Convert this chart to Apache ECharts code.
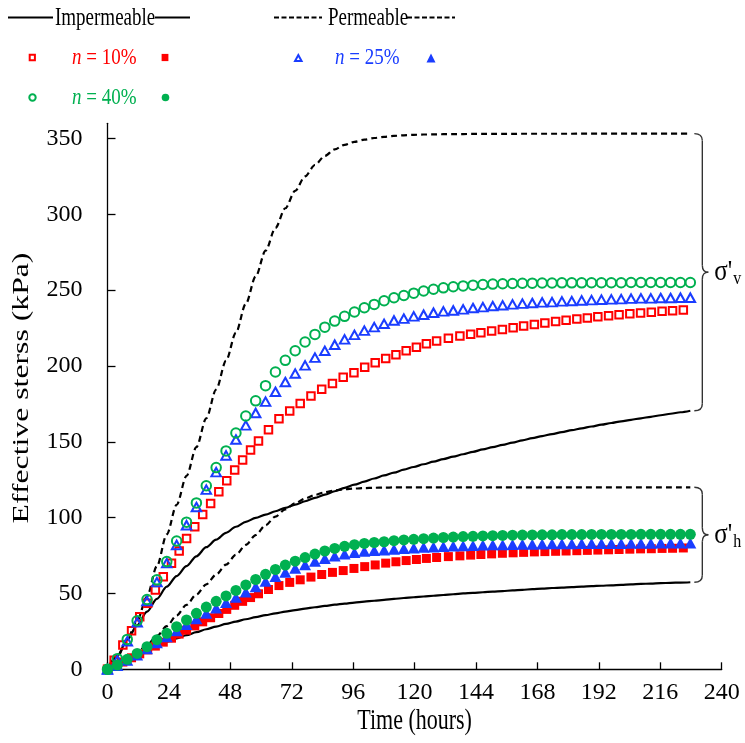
<!DOCTYPE html>
<html><head><meta charset="utf-8">
<script src="https://cdn.jsdelivr.net/npm/echarts@6/dist/echarts.min.js"></script>
<style>html,body{margin:0;padding:0;background:#fff}#c{width:745px;height:743px}</style>
</head><body><div id="c"></div>
<script>
// ---------- data (hours, kPa) ----------
const timeC = [0,3.86,7.72,11.58,15.44,19.3,23.16,27.02,30.88,34.74,
  38.6,42.46,46.32,50.18,54.04,57.9,61.76,65.62,69.48,73.34,
  77.2,81.06,84.92,88.78,92.64,96.5,100.36,104.22,108.08,111.94,
  115.8,119.66,123.52,127.38,131.24,135.1,138.96,142.82,146.68,150.54,
  154.4,158.26,162.12,165.98,169.84,173.7,177.56,181.42,185.28,189.14,
  193,196.86,200.72,204.58,208.44,212.3,216.16,220.02,223.88,227.74];
const timeS = [0,2.6,6.0,9.4,12.6,15.7,18.7,21.8,25.0,28.0,
  30.9,34.1,37.2,40.3,43.5,46.6,49.7,52.8,55.9,59.0,
  62.9,67.0,71.2,75.3,79.5,83.7,87.9,92.1,96.3,100.5,
  104.6,108.7,112.7,116.7,120.7,124.6,128.6,133.2,137.7,141.9,
  145.9,150.1,154.3,158.5,162.6,166.8,170.9,175.1,179.2,183.4,
  187.5,191.6,195.8,199.9,204.1,208.3,212.5,216.7,220.8,225.0];

// sigma'v (open markers)
const sv10 = [0,6,16,25.4,34.7,43.5,52.3,61,69.9,78,
  86.3,94,102,109.4,117,124.3,131.4,138,144.6,150.5,
  158,165.2,170.3,175.3,180.2,184.6,188.5,192.5,195.5,199.1,
  202.1,205,207.4,210,212.4,214.6,216.5,218.3,219.8,220.9,
  221.9,223,224.1,225.2,226.3,227.3,228.3,229.3,230.2,230.9,
  231.7,232.4,233.1,233.8,234.4,235,235.5,236,236.4,236.9];
const sv25 = [0,6,18.5,31,45,57.5,70,82,95,107,
  118.5,130,141,151.5,160.8,169,176.5,183,189.4,195,
  200.4,205.5,210,214,217.5,220.5,223.3,225.6,227.8,230,
  231.2,232.7,233.8,235.1,236,236.6,237.3,238.2,238.8,239.5,
  240,240.6,241.1,241.5,241.9,242.1,242.6,242.8,243.2,243.4,
  243.7,243.9,244.1,244.4,244.6,244.6,244.8,244.8,245,245];
const sv40 = [0,7,19.7,32,46,59,71,84.6,97,109.7,
  121,133,144,155.8,167,177,187,196,203.7,210,
  215.8,220.8,225.6,229.6,232.7,235.6,238.4,240.6,243,245,
  246.5,248,249.4,250.6,251.5,252.2,252.8,253.3,253.7,254,
  254.2,254.4,254.5,254.6,254.7,254.7,254.8,254.8,254.8,254.9,
  254.9,254.9,254.9,255,255,255,255,255,255,255];
// sigma'h (filled markers)
const sh10 = [0,2.0,4.8,7.6,10.2,12.8,15.3,17.9,20.5,23.2,
  25.8,28.6,31.3,34,36.8,39.5,42.2,44.8,47.3,49.8,
  52.6,55.2,57.3,59.0,60.8,62.5,63.9,65.1,66.5,67.7,
  68.8,70.0,70.9,71.7,72.4,73.1,73.7,74.3,74.8,75.3,
  75.7,76.1,76.5,76.8,77.1,77.4,77.6,77.8,78.0,78.2,
  78.4,78.6,78.8,79.0,79.2,79.4,79.5,79.7,79.8,80.0];
const sh25 = [0,2.5,6.0,9.5,13.5,17.5,21.5,25.5,29.5,33.3,
  37,40.5,44,47.5,51,54.5,58,61.2,64,66.6,
  69,71.2,73.1,74.7,76,77,77.8,78.3,78.6,79.1,
  79.6,80,80.4,80.7,81,81.3,81.5,81.7,81.9,82.1,
  82.2,82.3,82.4,82.5,82.6,82.7,82.8,82.8,82.9,82.9,
  83,83,83,83.1,83.1,83.1,83.2,83.2,83.2,83.2];
const sh40 = [0,2.8,6.6,10.5,14.9,19.5,23.7,28.1,32.5,36.9,
  41,44.8,48.4,52,55.6,59.2,62.6,65.8,68.7,71.3,
  73.7,76,78,79.7,81.1,82.2,83,83.6,84.1,84.8,
  85.3,85.7,86.1,86.5,86.9,87.2,87.5,87.7,87.9,88.1,
  88.3,88.4,88.5,88.6,88.7,88.7,88.8,88.8,88.8,88.9,
  88.9,88.9,88.9,88.9,89,89,89,89,89,89];
// black curves
const impV = [0,9,19.5,29,38,46.5,54.5,61.5,68,74.5,
  80.5,85.5,90,94,97.2,99.8,102,104.2,106.4,108.6,
  110.8,113,115.2,117.4,119.6,121.7,123.8,125.8,127.8,129.7,
  131.6,133.4,135.2,136.9,138.6,140.2,141.8,143.4,145,146.5,
  148,149.5,151,152.4,153.8,155.1,156.4,157.7,158.9,160.1,
  161.3,162.4,163.5,164.5,165.5,166.5,167.5,168.5,169.5,170.5];
const impH = [0,3.5,7,10.3,13.2,15.8,18.2,20.4,22.5,24.5,
  26.4,28.2,29.9,31.5,33,34.4,35.7,36.9,38,39,
  40,40.9,41.8,42.6,43.3,44,44.6,45.2,45.8,46.4,
  47,47.5,48,48.5,49,49.5,50,50.4,50.8,51.2,
  51.6,52,52.4,52.8,53.2,53.6,53.9,54.2,54.5,54.8,
  55.1,55.4,55.7,56,56.3,56.5,56.8,57,57.2,57.4];
const permV = [0,8,20,32,48,68,89,108.5,127.5,146.5,
  165.5,184.5,203.5,222,241,259,276,291,304,315.5,
  325,332.5,338.5,342.8,345.8,347.8,349.2,350.3,351.1,351.7,
  352.1,352.4,352.6,352.7,352.8,352.9,352.9,353,353,353,
  353,353,353.1,353.1,353.1,353.1,353.1,353.1,353.2,353.2,
  353.2,353.2,353.2,353.2,353.2,353.2,353.2,353.2,353.2,353.2];
const permH = [0,3,7,11,16,22,28.5,35.5,42.5,49.3,
  56,62.5,69,75.5,82,88.5,95,100.7,105.5,109.5,
  112.6,115,116.7,117.9,118.7,119.2,119.5,119.7,119.8,119.9,
  119.9,120,120,120,120,120,120,120,120,120,
  120,120,120,120,120,120,120,120,120,120,
  120,120,120,120,120,120,120,120,120,120];
const yTickValues = [0,50,100,150,200,250,300,350];

// ---------- chart ----------
const RED='#ff0000', BLUE='#1a3dff', GREEN='#00b050';
const FONT='Liberation Serif';
const pair=(ts,vs)=>ts.map((t,i)=>[t,vs[i]]);
const chart = echarts.init(document.getElementById('c'), null, {renderer:'canvas'});
const lineS=(name,vs,dash)=>({name,type:'line',data:pair(timeC,vs),showSymbol:false,symbol:'none',
  smooth:0.3,smoothMonotone:'x',lineStyle:{color:'#000',width:2.2,type:dash?[6,4]:'solid'},z:2,silent:true});
const scat=(name,ts,vs,symbol,size,color,open,z)=>({name,type:'scatter',data:pair(ts,vs),symbol,symbolSize:size,z,
  itemStyle:open?{color:'rgba(255,255,255,0)',borderColor:color,borderWidth:2,opacity:1}:{color:color,opacity:1},silent:true});
const option = {
  animation:false,
  backgroundColor:'#fff',
  grid:{left:107.5,right:23.3,top:123.3,bottom:73.7,containLabel:false},
  xAxis:{type:'value',min:0,max:240,interval:24,
    axisLine:{lineStyle:{color:'#000',width:1.3}},
    axisTick:{inside:true,length:7,lineStyle:{color:'#000',width:1.3}},
    axisLabel:{color:'#000',fontFamily:FONT,fontSize:24,margin:11},
    splitLine:{show:false}},
  yAxis:{type:'value',min:0,max:360,interval:50,
    axisLine:{show:true,lineStyle:{color:'#000',width:1.3}},
    axisTick:{show:true,inside:true,length:8,customValues:yTickValues,lineStyle:{color:'#000',width:1.3}},
    axisLabel:{color:'#000',fontFamily:FONT,fontSize:24,margin:25,customValues:yTickValues},
    splitLine:{show:false}},
  series:[
    lineS('Impermeable σ\'v',impV,false),
    lineS('Impermeable σ\'h',impH,false),
    lineS('Permeable σ\'v',permV,true),
    lineS('Permeable σ\'h',permH,true),
    scat('n = 10% σ\'v',timeS,sv10,'rect',7.5,RED,true,3),
    scat('n = 10% σ\'h',timeS,sh10,'rect',9,RED,false,3),
    scat('n = 25% σ\'v',timeC,sv25,'triangle',[9.5,8.5],BLUE,true,4),
    scat('n = 25% σ\'h',timeC,sh25,'triangle',[12,11],BLUE,false,4),
    scat('n = 40% σ\'v',timeC,sv40,'circle',9.5,GREEN,true,5),
    scat('n = 40% σ\'h',timeC,sh40,'circle',11,GREEN,false,5)
  ]
};
chart.setOption(option);

// ---------- annotations / legend ----------
const px=(x,y)=>chart.convertToPixel({gridIndex:0},[x,y]);
const g=[];
const txt=(x,y,text,opt)=>Object.assign({type:'text',x,y,silent:true,z:50,
  style:Object.assign({text,fontFamily:FONT,fontSize:19,fill:'#000',align:'left',verticalAlign:'middle'},opt&&opt.style||{})},
  opt&&opt.el||{});
const ln=(x1,y1,x2,y2,dash,color,w)=>({type:'line',silent:true,z:50,shape:{x1,y1,x2,y2},
  style:{stroke:color||'#000',lineWidth:w||2,lineDash:dash||null}});
// row 1
g.push(ln(8,17.5,53,17.5));
g.push(txt(55,18.5,'Impermeable',{el:{scaleY:1.35}}));
g.push(ln(155,17.5,190,17.5));
g.push(ln(274,17.5,322,17.5,[5,2.5]));
g.push(txt(328,18.5,'Permeable',{el:{scaleY:1.35}}));
g.push(ln(407,17.5,455,17.5,[5,2.5]));
// rows 2 & 3
const legTxt=(x,y,rest,color)=>{
  g.push(txt(x,y,'n',{style:{fill:color,fontStyle:'italic'},el:{scaleY:1.22}}));
  g.push(txt(x+9.5,y,rest,{style:{fill:color},el:{scaleY:1.22}}));
};
const openSq=(cx,cy,c)=>({type:'rect',silent:true,z:50,shape:{x:cx-2.6,y:cy-2.8,width:5.2,height:5.6},style:{fill:'none',stroke:c,lineWidth:2}});
const fillSq=(cx,cy,c)=>({type:'rect',silent:true,z:50,shape:{x:cx-3.4,y:cy-3.6,width:6.8,height:7.2},style:{fill:c}});
const tri=(cx,cy,w,h,c,open)=>({type:'polygon',silent:true,z:50,shape:{points:[[cx,cy-h/2],[cx+w/2,cy+h/2],[cx-w/2,cy+h/2]]},
  style:open?{fill:'none',stroke:c,lineWidth:2}:{fill:c}});
const circ=(cx,cy,r,c,open)=>({type:'circle',silent:true,z:50,shape:{cx,cy,r},style:open?{fill:'none',stroke:c,lineWidth:2}:{fill:c}});
g.push(openSq(32.3,57.5,RED)); legTxt(72,57.5,' = 10%',RED); g.push(fillSq(165,57.5,RED));
g.push(tri(298.3,58,6.5,6,BLUE,true)); legTxt(335,57.5,' = 25%',BLUE); g.push(tri(431,58,9,9,BLUE,false));
g.push(circ(32.5,97.5,3.2,GREEN,true)); legTxt(72,97.5,' = 40%',GREEN); g.push(circ(165.5,97.5,3.8,GREEN,false));

// axis titles
const gl=px(0,0), gr=px(240,360);
g.push(txt((gl[0]+gr[0])/2,721,'Time (hours)',{style:{align:'center',fontSize:22},el:{scaleY:1.3}}));
g.push(txt(22,388,'Effective sterss (kPa)',{style:{align:'center',fontSize:23},el:{rotation:Math.PI/2,scaleX:1.38}}));

// braces
const last=timeC.length-1, tEnd=timeC[last];
const brace=(vTop,vBot,label)=>{
  const x0=px(tEnd,0)[0]+4, xv=x0+8, xt=xv+6, r=7;
  const yT=px(tEnd,vTop)[1], yB=px(tEnd,vBot)[1], ym=(yT+yB)/2;
  const st={stroke:'#333',lineWidth:1.4,fill:'none'};
  const bz=(x1,y1,cx,cy,x2,y2)=>({type:'bezierCurve',silent:true,z:50,shape:{x1,y1,x2,y2,cpx1:cx,cpy1:cy},style:st});
  g.push(bz(x0,yT,xv,yT,xv,yT+r));
  g.push({type:'line',silent:true,z:50,shape:{x1:xv,y1:yT+r,x2:xv,y2:ym-r},style:st});
  g.push(bz(xv,ym-r,xv,ym,xt,ym));
  g.push(bz(xt,ym,xv,ym,xv,ym+r));
  g.push({type:'line',silent:true,z:50,shape:{x1:xv,y1:ym+r,x2:xv,y2:yB-r},style:st});
  g.push(bz(xv,yB-r,xv,yB,x0,yB));
  g.push(txt(xt+6,ym,'σ\'',{style:{fontSize:25},el:{scaleY:1.2}}));
  g.push(txt(xt+25,ym+7,label,{style:{fontSize:16},el:{scaleY:1.2}}));
};
brace(permV[last],impV[last],'v');
brace(permH[last],impH[last],'h');
chart.setOption({graphic:{elements:g}});
</script></body></html>
